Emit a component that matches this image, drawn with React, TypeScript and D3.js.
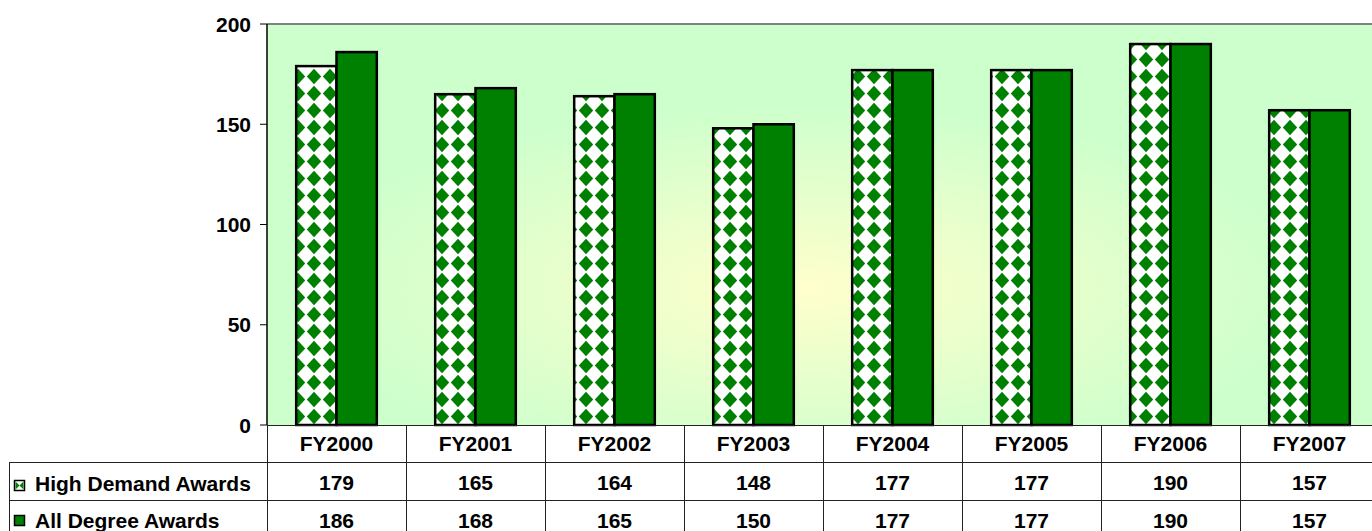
import React from "react";
import * as d3 from "d3";

const categories = ["FY2000", "FY2001", "FY2002", "FY2003", "FY2004", "FY2005", "FY2006", "FY2007"];
const seriesNames = ["High Demand Awards", "All Degree Awards"];
const highDemand = [179, 165, 164, 148, 177, 177, 190, 157];
const allDegree = [186, 168, 165, 150, 177, 177, 190, 157];
const yTicks = [0, 50, 100, 150, 200];

const W = 1372;
const H = 531;
const plotLeft = 267;
const plotRight = 1379;
const plotTop = 24;
const plotBottom = 425;
const rowY = [425, 462, 500, 538];
const GREEN = "#008000";
const FONT = "'Liberation Sans', Arial, sans-serif";

const PW = 16;
const PH = 17;
const DX = 7.2;
const DY = 7.7;
const diamond = (cx: number, cy: number) =>
  `M${cx},${cy - DY}L${cx + DX},${cy}L${cx},${cy + DY}L${cx - DX},${cy}Z`;

export default function App() {
  const y = d3.scaleLinear().domain([0, 200]).range([plotBottom, plotTop]);
  const x0 = d3
    .scaleBand<string>()
    .domain(categories)
    .range([plotLeft, plotRight])
    .paddingInner(0.42)
    .paddingOuter(0.21);
  const step = x0.step();
  const x1 = d3.scaleBand<string>().domain(seriesNames).range([0, x0.bandwidth()]).padding(0);
  const series = [highDemand, allDegree];
  const fills = ["url(#diamonds)", GREEN];
  const colStart = (i: number) => plotLeft + i * step;

  return (
    <svg
      width={W}
      height={H}
      style={{ position: "absolute", left: 0, top: 0, display: "block" }}
      fontFamily={FONT}
    >
      <defs>
        <radialGradient id="bg" cx="0.48" cy="0.66" r="0.62" fx="0.48" fy="0.66">
          <stop offset="0" stopColor="#FFFFCC" />
          <stop offset="0.75" stopColor="#CCFFCC" />
          <stop offset="1" stopColor="#CCFFCC" />
        </radialGradient>
        <pattern id="diamonds" x={2} y={0} width={PW} height={PH} patternUnits="userSpaceOnUse">
          <rect width={PW} height={PH} fill="#fff" />
          <path d={diamond(PW / 2, PH / 2)} fill={GREEN} />
        </pattern>
      </defs>

      <rect x={0} y={0} width={W} height={H} fill="#fff" />

      {/* plot area */}
      <rect
        x={plotLeft}
        y={plotTop}
        width={plotRight - plotLeft}
        height={plotBottom - plotTop}
        fill="url(#bg)"
      />
      <line x1={plotLeft} x2={W} y1={plotTop} y2={plotTop} stroke="#808080" strokeWidth={2} />

      {/* bars */}
      {categories.map((c, i) => (
        <g key={c}>
          {seriesNames.map((s, k) => (
            <rect
              key={s}
              x={(x0(c) as number) + (x1(s) as number)}
              y={y(series[k][i])}
              width={x1.bandwidth()}
              height={y(0) - y(series[k][i])}
              fill={fills[k]}
              stroke="#000"
              strokeWidth={2.5}
            />
          ))}
        </g>
      ))}

      {/* y axis */}
      <line x1={plotLeft} x2={plotLeft} y1={plotTop} y2={plotBottom} stroke="#000" strokeWidth={1.5} />
      {yTicks.map((t) => (
        <g key={t}>
          <line x1={plotLeft - 7} x2={plotLeft} y1={y(t)} y2={y(t)} stroke="#000" strokeWidth={1} />
          <text
            x={251}
            y={y(t)}
            dy="0.36em"
            textAnchor="end"
            fontSize={21}
            fontWeight="bold"
          >
            {t}
          </text>
        </g>
      ))}

      {/* data table */}
      <g stroke="#222" strokeWidth={1}>
        <line x1={plotLeft} x2={W} y1={rowY[0] + 0.5} y2={rowY[0] + 0.5} />
        <line x1={9} x2={W} y1={rowY[1] + 0.5} y2={rowY[1] + 0.5} />
        <line x1={9} x2={W} y1={rowY[2] + 0.5} y2={rowY[2] + 0.5} />
        <line x1={9.5} x2={9.5} y1={rowY[1]} y2={H} />
        {d3.range(categories.length + 1).map((i) => (
          <line
            key={i}
            x1={Math.round(colStart(i)) + 0.5}
            x2={Math.round(colStart(i)) + 0.5}
            y1={rowY[0]}
            y2={H}
          />
        ))}
      </g>
      {categories.map((c, i) => (
        <text
          key={c}
          x={colStart(i) + step / 2}
          y={451}
          textAnchor="middle"
          fontSize={21}
          fontWeight="bold"
        >
          {c}
        </text>
      ))}
      {series.map((vals, k) =>
        vals.map((v, i) => (
          <text
            key={k + "-" + i}
            x={colStart(i) + step / 2}
            y={[490, 528][k]}
            textAnchor="middle"
            fontSize={21}
            fontWeight="bold"
          >
            {v}
          </text>
        ))
      )}
      {seriesNames.map((s, k) => {
        const ky = [480.5, 515.5][k];
        return (
          <g key={s}>
            <rect
              x={14.5}
              y={ky}
              width={10}
              height={10}
              fill={k === 0 ? "#fff" : GREEN}
              stroke="#000"
              strokeWidth={1.5}
            />
            {k === 0 && (
              <path
                d={`M15.5,${ky + 1}L19.5,${ky + 5}L15.5,${ky + 9}Z M23.5,${ky + 1}L19.5,${ky + 5}L23.5,${ky + 9}Z`}
                fill={GREEN}
              />
            )}
            <text x={35} y={[491, 528][k]} fontSize={21} fontWeight="bold">
              {s}
            </text>
          </g>
        );
      })}
    </svg>
  );
}
